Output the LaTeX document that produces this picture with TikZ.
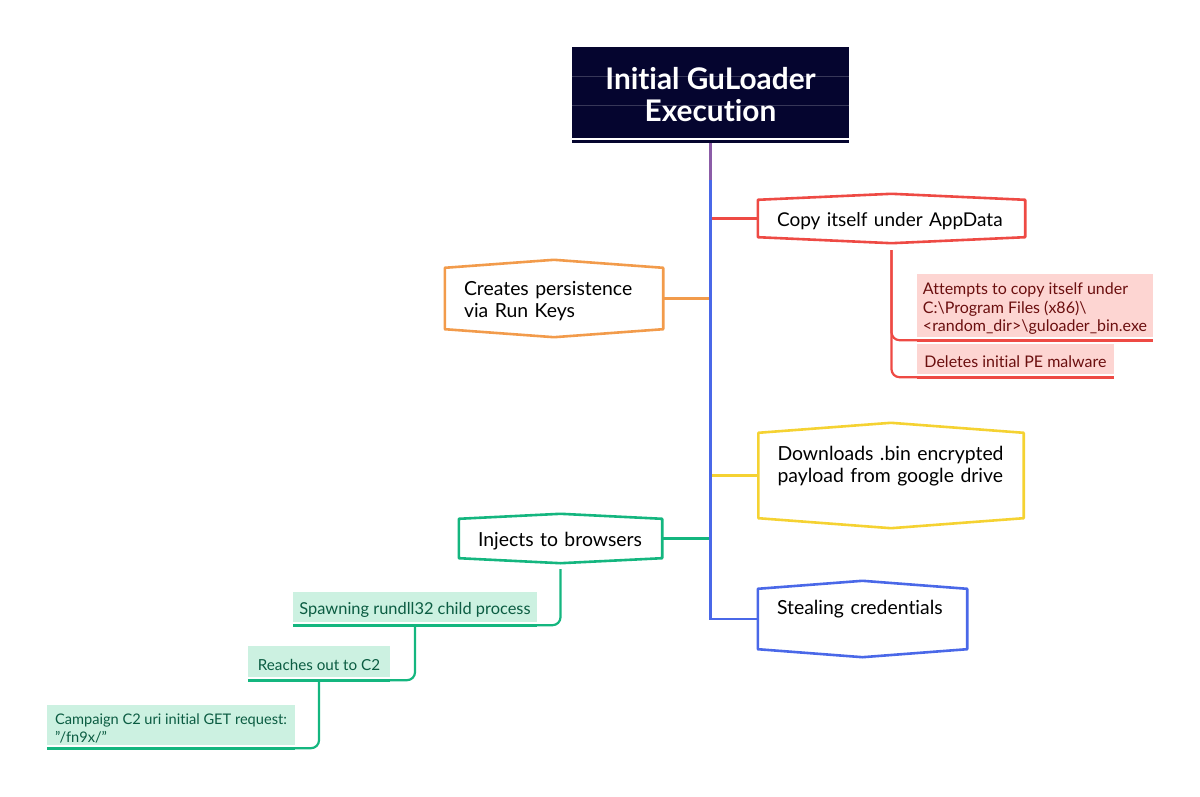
\documentclass[tikz,border=0pt]{standalone}
\usepackage{fontspec}
\setmainfont{Lato}[Ligatures={NoCommon}]
\definecolor{mapnavy}{HTML}{05052F}
\definecolor{mapred}{HTML}{EE4A44}
\definecolor{maporange}{HTML}{F29B4B}
\definecolor{mapyellow}{HTML}{F5D232}
\definecolor{mapblue}{HTML}{4A68E8}
\definecolor{mapgreen}{HTML}{14B67F}
\definecolor{redtint}{HTML}{FDD5D2}
\definecolor{greentint}{HTML}{CCF1E1}
\definecolor{redink}{HTML}{6B0F0F}
\definecolor{greenink}{HTML}{0B5C42}
\newcommand{\topiclift}{\rule{0pt}{19pt}}
\newcommand{\notelift}{\rule{0pt}{18pt}}
\tikzset{
  topicbox/.style={inner xsep=19pt, inner ysep=0pt, align=left, text=black,
    font=\fontsize{19.4}{22.5}\selectfont},
  redsub/.style={fill=redtint, text=redink, inner sep=0pt, align=left,
    font=\fontsize{16}{18.5}\selectfont},
  greensub/.style={fill=greentint, text=greenink, inner sep=0pt, align=left,
    font=\fontsize{16}{18}\selectfont},
}
\begin{document}
\begin{tikzpicture}[x=1pt,y=-1pt]
  \useasboundingbox (0,0) rectangle (1200,797);
  \node[fill=mapnavy, text=white, align=center, inner sep=0pt, minimum width=277pt, minimum height=96pt,
    font=\fontsize{29.8}{32}\selectfont\bfseries] (titlebox) at (710.5,95) {Initial GuLoader\\Execution};

  \node[topicbox, text width=229pt, minimum height=49pt, font=\fontsize{19}{22.5}\selectfont] (copybox) at (891.5,218.5) {\topiclift Copy itself under AppData};
  \node[topicbox, text width=180pt, minimum height=77pt] (persistbox) at (554,298.5) {\topiclift Creates persistence\\via Run Keys};
  \node[topicbox, text width=227pt, minimum height=105pt] (downloadbox) at (891,475.5) {Downloads .bin encrypted\\payload from google drive\\\mbox{}};
  \node[topicbox, text width=171pt, minimum height=76pt] (stealbox) at (862.5,619) {Stealing credentials\\\mbox{}};
  \node[topicbox, text width=165pt, minimum height=49pt] (injectbox) at (560.5,538.5) {\topiclift Injects to browsers};

  \node[redsub, minimum width=236pt, minimum height=63pt] (copynote) at (1035,305.5) {\notelift Attempts to copy itself under\\C:\textbackslash Program Files (x86)\textbackslash\\<random\_dir>\textbackslash guloader\_bin.exe};
  \node[redsub, minimum width=197pt, minimum height=30pt] (deletenote) at (1015.5,359) {\notelift Deletes initial PE malware};
  \node[greensub, minimum width=244pt, minimum height=30pt, font=\fontsize{16.4}{18}\selectfont] (spawnnote) at (415,607) {\notelift Spawning rundll32 child process};
  \node[greensub, minimum width=142pt, minimum height=31pt, font=\fontsize{15.2}{18}\selectfont] (reachnote) at (319,661.5) {\notelift Reaches out to C2};
  \node[greensub, minimum width=248pt, minimum height=40pt, font=\fontsize{14.6}{17.5}\selectfont] (uricnote) at (171,725) {\notelift Campaign C2 uri initial GET request:\\"/fn9x/"};

  % hexagon outlines round the topics
  \foreach \n/\c/\d in {copybox/mapred/6, persistbox/maporange/8, downloadbox/mapyellow/10, stealbox/mapblue/8, injectbox/mapgreen/5}
    \draw[\c, line width=2.6pt, line join=round] ([yshift=-\d pt]\n.north west) -- (\n.north) -- ([yshift=-\d pt]\n.north east)
      -- ([yshift=\d pt]\n.south east) -- (\n.south) -- ([yshift=\d pt]\n.south west) -- cycle;

  % streaks on the title
  \draw[white, line width=1.6pt] ([yshift=4pt]titlebox.south west) -- ([yshift=4pt]titlebox.south east);
  \draw[white, opacity=.2, line width=.8pt] ([yshift=-30pt]titlebox.north west) -- ([yshift=-30pt]titlebox.north east);
  \draw[white, opacity=.2, line width=.8pt] ([yshift=-59pt]titlebox.north west) -- ([yshift=-59pt]titlebox.north east);

  % trunk and branches
  \coordinate (trunktop) at (710.5,180);
  \draw[mapred, line width=2.4pt] (copybox.west) -- (copybox.west -| titlebox.south);
  \draw[mapyellow, line width=2.4pt] (downloadbox.west) -- (downloadbox.west -| titlebox.south);
  \draw[maporange, line width=2.6pt] (persistbox.east) -- (persistbox.east -| titlebox.south);
  \draw[mapgreen, line width=3pt] (injectbox.east) -- (injectbox.east -| titlebox.south);
  \draw[mapblue, line width=2.4pt] (titlebox.south) |- (stealbox.west);
  \draw[mapblue!60!mapred, line width=2.4pt] (titlebox.south) -- (trunktop);

  % notes
  \foreach \n/\c in {copynote/mapred, deletenote/mapred, spawnnote/mapgreen, reachnote/mapgreen, uricnote/mapgreen}
    \draw[\c, line width=2.8pt] ([yshift=-3pt]\n.south west) -- ([yshift=-3pt]\n.south east);
  \draw[mapred, line width=2.2pt, rounded corners=8pt] ([yshift=-7pt]copybox.south) |- ([yshift=-3pt]copynote.south west);
  \draw[mapred, line width=2.2pt, rounded corners=8pt] ([yshift=-7pt]copybox.south) |- ([yshift=-3pt]deletenote.south west);
  \draw[mapgreen, line width=2.2pt, rounded corners=8pt] ([yshift=-6pt]injectbox.south) |- ([yshift=-3pt]spawnnote.south east);
  \draw[mapgreen, line width=2.2pt, rounded corners=8pt] ([yshift=-3pt]spawnnote.south) |- ([yshift=-3pt]reachnote.south east);
  \draw[mapgreen, line width=2.2pt, rounded corners=8pt] ([yshift=-3pt]reachnote.south) |- ([yshift=-3pt]uricnote.south east);
\end{tikzpicture}
\end{document}
